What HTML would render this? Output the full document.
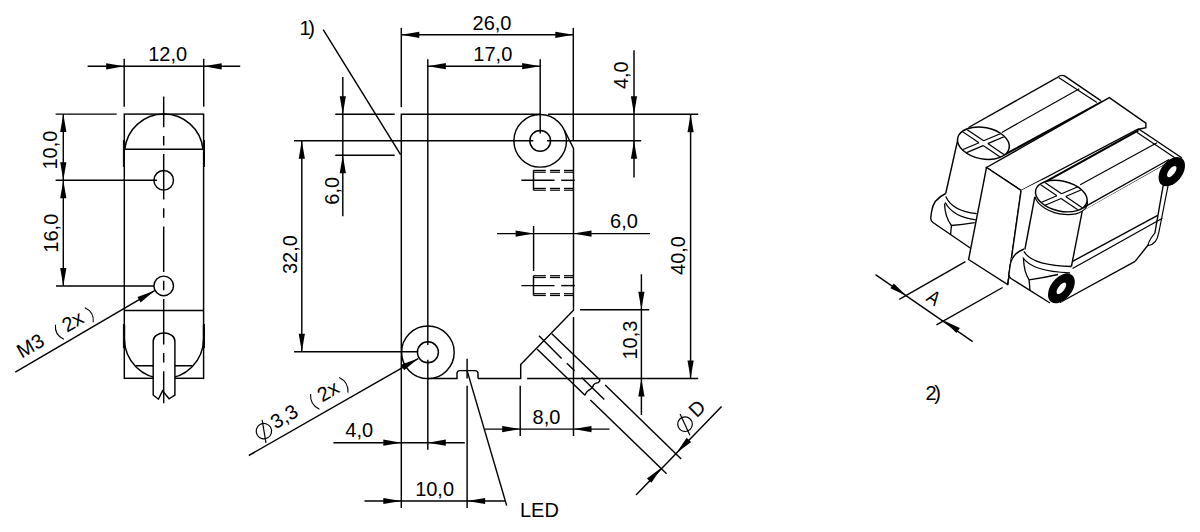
<!DOCTYPE html>
<html><head><meta charset="utf-8"><style>
html,body{margin:0;padding:0;background:#fff;width:1200px;height:532px;overflow:hidden}
svg{position:absolute;left:0;top:0}
text{font-family:"Liberation Sans",sans-serif;fill:#000;stroke:none}
</style></head><body>
<svg width="1200" height="532" viewBox="0 0 1200 532" stroke="#000" stroke-linecap="butt">
<line x1="124.20" y1="58.80" x2="124.20" y2="106.70" stroke-width="1.45" />
<line x1="203.70" y1="58.80" x2="203.70" y2="106.70" stroke-width="1.45" />
<line x1="87.60" y1="66.30" x2="240.20" y2="66.30" stroke-width="1.45" />
<polygon points="124.20,66.30 106.20,69.40 106.20,63.20" fill="#000" stroke="none"/>
<polygon points="203.70,66.30 221.70,63.20 221.70,69.40" fill="#000" stroke="none"/>
<text x="167.70" y="61.00" text-anchor="middle" font-size="20" >12,0</text>
<rect x="124.3" y="114.1" width="79.3" height="264.2" fill="none" stroke-width="1.45"/>
<path d="M124.8,149.3 A39.3,39.3 0 0 1 203.0,149.3" fill="none" stroke-width="1.45" />
<line x1="124.30" y1="149.30" x2="203.60" y2="149.30" stroke-width="1.45" />
<line x1="123.40" y1="140.00" x2="123.40" y2="167.00" stroke-width="1.0" />
<line x1="204.50" y1="140.00" x2="204.50" y2="167.00" stroke-width="1.0" />
<line x1="123.40" y1="324.00" x2="123.40" y2="348.00" stroke-width="1.0" />
<line x1="204.50" y1="324.00" x2="204.50" y2="348.00" stroke-width="1.0" />
<line x1="124.30" y1="310.40" x2="203.60" y2="310.40" stroke-width="1.45" />
<path d="M124.5,325 L124.5,339 A39.2,39.2 0 0 0 203.5,339 L203.5,325" fill="none" stroke-width="1.45" />
<line x1="135.70" y1="365.70" x2="192.50" y2="365.70" stroke-width="1.45" />
<path d="M153.2,395 L153.2,341 A10.85,8 0 0 1 174.9,341 L174.9,395 L169.1,398.8 L162.5,390.9 L158.4,399.2 Z" fill="#fff" stroke-width="1.45" />
<circle cx="163.70" cy="180.30" r="9.80" fill="none" stroke-width="1.45"/>
<circle cx="163.70" cy="285.90" r="9.80" fill="none" stroke-width="1.45"/>
<line x1="163.7" y1="96.6" x2="163.7" y2="403.3" stroke-width="1.45" stroke-dasharray="45.5 8.7 9.5 8.7" stroke-dashoffset="14.9"/>
<line x1="55.60" y1="114.10" x2="116.70" y2="114.10" stroke-width="1.45" />
<line x1="55.60" y1="180.30" x2="157.00" y2="180.30" stroke-width="1.45" />
<line x1="56.00" y1="285.90" x2="153.80" y2="285.90" stroke-width="1.45" />
<line x1="63.30" y1="114.10" x2="63.30" y2="285.90" stroke-width="1.45" />
<polygon points="63.30,114.10 66.40,132.10 60.20,132.10" fill="#000" stroke="none"/>
<polygon points="63.30,180.30 60.20,162.30 66.40,162.30" fill="#000" stroke="none"/>
<polygon points="63.30,180.30 66.40,198.30 60.20,198.30" fill="#000" stroke="none"/>
<polygon points="63.30,285.90 60.20,267.90 66.40,267.90" fill="#000" stroke="none"/>
<text transform="translate(57.00,150.10) rotate(-90)" text-anchor="middle" font-size="20" >10,0</text>
<text transform="translate(57.50,233.20) rotate(-90)" text-anchor="middle" font-size="20" >16,0</text>
<line x1="15.30" y1="372.10" x2="154.60" y2="290.70" stroke-width="1.45" />
<polygon points="154.60,290.70 140.56,302.38 137.46,297.02" fill="#000" stroke="none"/>
<text x="299.6" y="34.8" font-size="20">1<tspan dx="-2.6">)</tspan></text>
<line x1="323.20" y1="29.70" x2="400.60" y2="154.70" stroke-width="1.45" />
<line x1="401.30" y1="27.80" x2="401.30" y2="107.20" stroke-width="1.45" />
<line x1="573.30" y1="27.80" x2="573.30" y2="140.80" stroke-width="1.45" />
<line x1="401.30" y1="34.80" x2="573.30" y2="34.80" stroke-width="1.45" />
<polygon points="401.30,34.80 419.30,31.70 419.30,37.90" fill="#000" stroke="none"/>
<polygon points="573.30,34.80 555.30,37.90 555.30,31.70" fill="#000" stroke="none"/>
<text x="492.00" y="29.70" text-anchor="middle" font-size="20" >26,0</text>
<line x1="427.80" y1="59.20" x2="427.80" y2="345.00" stroke-width="1.45" />
<line x1="540.20" y1="59.20" x2="540.20" y2="133.50" stroke-width="1.45" />
<line x1="427.80" y1="66.20" x2="540.20" y2="66.20" stroke-width="1.45" />
<polygon points="427.80,66.20 445.80,63.10 445.80,69.30" fill="#000" stroke="none"/>
<polygon points="540.20,66.20 522.20,69.30 522.20,63.10" fill="#000" stroke="none"/>
<text x="492.80" y="61.10" text-anchor="middle" font-size="20" >17,0</text>
<polyline points="401.30,508.00 401.30,114.20 540.20,114.20" fill="none" stroke-width="1.45" />
<line x1="548.00" y1="114.20" x2="698.20" y2="114.20" stroke-width="1.45" />
<circle cx="540.20" cy="140.80" r="26.30" fill="none" stroke-width="1.45"/>
<circle cx="540.20" cy="140.80" r="10.40" fill="none" stroke-width="1.45"/>
<polyline points="564.30,130.00 573.50,148.30 573.50,310.30 520.70,364.60 520.70,378.50 478.00,378.50" fill="none" stroke-width="1.45" />
<path d="M478,378.5 L478,373.6 Q478,370.6 475,370.6 L460,370.6 Q457,370.6 457,373.6 L457,378.5 L427.9,378.5" fill="none" stroke-width="1.45" />
<circle cx="427.90" cy="352.30" r="26.30" fill="none" stroke-width="1.45"/>
<circle cx="427.90" cy="352.30" r="10.50" fill="none" stroke-width="1.45"/>
<line x1="427.80" y1="359.80" x2="427.80" y2="449.70" stroke-width="1.45" />
<line x1="294.00" y1="140.70" x2="533.30" y2="140.70" stroke-width="1.45" />
<line x1="547.00" y1="140.70" x2="641.20" y2="140.70" stroke-width="1.45" />
<line x1="294.10" y1="351.70" x2="418.20" y2="351.70" stroke-width="1.45" />
<line x1="335.30" y1="114.20" x2="394.70" y2="114.20" stroke-width="1.45" />
<line x1="335.30" y1="155.30" x2="394.70" y2="155.30" stroke-width="1.45" />
<line x1="342.80" y1="77.10" x2="342.80" y2="216.30" stroke-width="1.45" />
<polygon points="342.80,114.20 339.70,96.20 345.90,96.20" fill="#000" stroke="none"/>
<polygon points="342.80,155.30 345.90,173.30 339.70,173.30" fill="#000" stroke="none"/>
<text transform="translate(339.00,190.80) rotate(-90)" text-anchor="middle" font-size="20" >6,0</text>
<line x1="301.80" y1="140.70" x2="301.80" y2="351.70" stroke-width="1.45" />
<polygon points="301.80,140.70 304.90,158.70 298.70,158.70" fill="#000" stroke="none"/>
<polygon points="301.80,351.70 298.70,333.70 304.90,333.70" fill="#000" stroke="none"/>
<text transform="translate(297.00,254.60) rotate(-90)" text-anchor="middle" font-size="20" >32,0</text>
<line x1="634.00" y1="50.30" x2="634.00" y2="177.40" stroke-width="1.45" />
<polygon points="634.00,114.20 630.90,96.20 637.10,96.20" fill="#000" stroke="none"/>
<polygon points="634.00,140.70 637.10,158.70 630.90,158.70" fill="#000" stroke="none"/>
<text transform="translate(628.30,75.20) rotate(-90)" text-anchor="middle" font-size="20" >4,0</text>
<line x1="690.60" y1="114.20" x2="690.60" y2="378.50" stroke-width="1.45" />
<polygon points="690.60,114.20 693.70,132.20 687.50,132.20" fill="#000" stroke="none"/>
<polygon points="690.60,378.50 687.50,360.50 693.70,360.50" fill="#000" stroke="none"/>
<text transform="translate(685.00,255.50) rotate(-90)" text-anchor="middle" font-size="20" >40,0</text>
<line x1="533.50" y1="170.40" x2="533.50" y2="190.20" stroke-width="1.45" />
<line x1="533.50" y1="170.40" x2="545.80" y2="170.40" stroke-width="1.2" />
<line x1="550.00" y1="170.40" x2="560.00" y2="170.40" stroke-width="1.2" />
<line x1="564.00" y1="170.40" x2="573.50" y2="170.40" stroke-width="1.2" />
<line x1="533.50" y1="172.20" x2="545.80" y2="172.20" stroke-width="1.2" />
<line x1="550.00" y1="172.20" x2="560.00" y2="172.20" stroke-width="1.2" />
<line x1="564.00" y1="172.20" x2="573.50" y2="172.20" stroke-width="1.2" />
<line x1="533.50" y1="188.40" x2="545.80" y2="188.40" stroke-width="1.2" />
<line x1="550.00" y1="188.40" x2="560.00" y2="188.40" stroke-width="1.2" />
<line x1="564.00" y1="188.40" x2="573.50" y2="188.40" stroke-width="1.2" />
<line x1="533.50" y1="190.20" x2="545.80" y2="190.20" stroke-width="1.2" />
<line x1="550.00" y1="190.20" x2="560.00" y2="190.20" stroke-width="1.2" />
<line x1="564.00" y1="190.20" x2="573.50" y2="190.20" stroke-width="1.2" />
<line x1="521.40" y1="180.30" x2="554.50" y2="180.30" stroke-width="1.45" />
<line x1="561.20" y1="180.30" x2="574.80" y2="180.30" stroke-width="1.45" />
<line x1="533.50" y1="275.70" x2="533.50" y2="295.50" stroke-width="1.45" />
<line x1="533.50" y1="275.70" x2="545.80" y2="275.70" stroke-width="1.2" />
<line x1="550.00" y1="275.70" x2="560.00" y2="275.70" stroke-width="1.2" />
<line x1="564.00" y1="275.70" x2="573.50" y2="275.70" stroke-width="1.2" />
<line x1="533.50" y1="277.50" x2="545.80" y2="277.50" stroke-width="1.2" />
<line x1="550.00" y1="277.50" x2="560.00" y2="277.50" stroke-width="1.2" />
<line x1="564.00" y1="277.50" x2="573.50" y2="277.50" stroke-width="1.2" />
<line x1="533.50" y1="293.70" x2="545.80" y2="293.70" stroke-width="1.2" />
<line x1="550.00" y1="293.70" x2="560.00" y2="293.70" stroke-width="1.2" />
<line x1="564.00" y1="293.70" x2="573.50" y2="293.70" stroke-width="1.2" />
<line x1="533.50" y1="295.50" x2="545.80" y2="295.50" stroke-width="1.2" />
<line x1="550.00" y1="295.50" x2="560.00" y2="295.50" stroke-width="1.2" />
<line x1="564.00" y1="295.50" x2="573.50" y2="295.50" stroke-width="1.2" />
<line x1="521.40" y1="285.60" x2="554.50" y2="285.60" stroke-width="1.45" />
<line x1="561.20" y1="285.60" x2="574.80" y2="285.60" stroke-width="1.45" />
<line x1="497.00" y1="233.60" x2="650.00" y2="233.60" stroke-width="1.45" />
<line x1="533.60" y1="226.00" x2="533.60" y2="271.00" stroke-width="1.45" />
<polygon points="533.60,233.60 515.60,236.70 515.60,230.50" fill="#000" stroke="none"/>
<polygon points="573.50,233.60 591.50,230.50 591.50,236.70" fill="#000" stroke="none"/>
<text x="624.00" y="228.00" text-anchor="middle" font-size="20" >6,0</text>
<line x1="580.00" y1="309.80" x2="649.20" y2="309.80" stroke-width="1.45" />
<line x1="527.10" y1="378.50" x2="698.20" y2="378.50" stroke-width="1.45" />
<line x1="641.40" y1="274.30" x2="641.40" y2="415.00" stroke-width="1.45" />
<polygon points="641.40,309.80 638.30,291.80 644.50,291.80" fill="#000" stroke="none"/>
<polygon points="641.40,378.50 644.50,396.50 638.30,396.50" fill="#000" stroke="none"/>
<text transform="translate(636.50,340.10) rotate(-90)" text-anchor="middle" font-size="20" >10,3</text>
<line x1="573.50" y1="317.00" x2="573.50" y2="436.00" stroke-width="1.45" />
<line x1="520.20" y1="385.80" x2="520.20" y2="436.00" stroke-width="1.45" />
<line x1="467.10" y1="358.80" x2="467.10" y2="378.50" stroke-width="1.45" />
<line x1="467.10" y1="385.80" x2="467.10" y2="508.00" stroke-width="1.45" />
<line x1="484.70" y1="429.10" x2="609.50" y2="429.10" stroke-width="1.45" />
<polygon points="520.20,429.10 502.20,432.20 502.20,426.00" fill="#000" stroke="none"/>
<polygon points="573.50,429.10 591.50,426.00 591.50,432.20" fill="#000" stroke="none"/>
<text x="546.50" y="423.50" text-anchor="middle" font-size="20" >8,0</text>
<line x1="333.40" y1="442.70" x2="464.80" y2="442.70" stroke-width="1.45" />
<polygon points="401.30,442.70 383.30,445.80 383.30,439.60" fill="#000" stroke="none"/>
<polygon points="427.80,442.70 445.80,439.60 445.80,445.80" fill="#000" stroke="none"/>
<text x="359.20" y="437.00" text-anchor="middle" font-size="20" >4,0</text>
<line x1="364.50" y1="501.00" x2="505.70" y2="501.00" stroke-width="1.45" />
<polygon points="401.30,501.00 383.30,504.10 383.30,497.90" fill="#000" stroke="none"/>
<polygon points="467.10,501.00 485.10,497.90 485.10,504.10" fill="#000" stroke="none"/>
<text x="434.60" y="495.60" text-anchor="middle" font-size="20" >10,0</text>
<line x1="467.10" y1="370.60" x2="506.70" y2="505.60" stroke-width="1.45" />
<text x="520.00" y="517.00" text-anchor="start" font-size="20" >LED</text>
<line x1="248.80" y1="455.50" x2="418.20" y2="358.60" stroke-width="1.45" />
<polygon points="418.20,358.60 404.12,370.24 401.04,364.86" fill="#000" stroke="none"/>
<g transform="translate(23.2,357.9) rotate(-30)"><text x="-1.6" y="0" font-size="20">M3</text><path d="M44.50,-12.60 Q38.50,-4.20 44.50,4.20" fill="none" stroke-width="1.1"/><text x="50.5" y="0" font-size="20">2x</text><path d="M78.50,-12.60 Q84.50,-4.20 78.50,4.20" fill="none" stroke-width="1.1"/></g>
<g transform="translate(263.9,431.15) rotate(-30)"><circle cx="0" cy="0" r="7.7" fill="none" stroke-width="1.2"/><line x1="4.1" y1="-10.6" x2="-4.1" y2="11.2" stroke-width="1.2"/><text x="11.0" y="4.3" font-size="20">3,3</text><path d="M59.00,-8.80 Q53.00,0.00 59.00,8.80" fill="none" stroke-width="1.1"/><text x="65.0" y="4.3" font-size="20">2x</text><path d="M92.00,-8.80 Q98.00,0.00 92.00,8.80" fill="none" stroke-width="1.1"/></g>
<g transform="translate(697.9,417.4) rotate(-45)"><circle cx="-13.9" cy="-4.3" r="7.3" fill="none" stroke-width="1.2"/><line x1="-10.2" y1="-15" x2="-18.2" y2="6.9" stroke-width="1.2"/><text x="-1.6" y="0" font-size="20">D</text></g>
<line x1="551.80" y1="333.80" x2="598.20" y2="378.30" stroke-width="1.45" />
<line x1="537.00" y1="349.10" x2="585.00" y2="395.20" stroke-width="1.45" />
<path d="M598.2,378.3 Q601.5,380 598.2,382.6 Q594,383.5 593.5,384.9 Q593,388 588.3,390.5 Q586,392 585,395.2" fill="none" stroke-width="1.45" />
<line x1="539.00" y1="335.80" x2="561.60" y2="358.40" stroke-width="1.45" />
<line x1="566.80" y1="363.20" x2="574.70" y2="370.80" stroke-width="1.45" />
<line x1="581.70" y1="377.40" x2="604.30" y2="399.50" stroke-width="1.45" />
<line x1="605.20" y1="384.90" x2="681.20" y2="459.00" stroke-width="1.45" />
<line x1="590.40" y1="400.00" x2="666.60" y2="473.70" stroke-width="1.45" />
<line x1="636.00" y1="495.10" x2="721.60" y2="406.50" stroke-width="1.45" />
<polygon points="676.40,452.90 686.68,437.80 691.14,442.11" fill="#000" stroke="none"/>
<polygon points="661.70,467.60 651.42,482.70 646.96,478.39" fill="#000" stroke="none"/>
<polygon points="966.00,129.00 1056.60,77.90 1060.40,75.30 1065.00,76.90 1100.80,100.40 1102.70,101.30 1004.50,154.70 990.00,160.00" fill="#fff" stroke-width="0" stroke="none"/>
<polyline points="968.50,127.50 1056.60,77.90" fill="none" stroke-width="1.4" />
<path d="M1056.6,77.9 Q1060.5,74.3 1064.5,75.8 L1100.8,100.6" fill="none" stroke-width="1.4" />
<line x1="1058.60" y1="77.60" x2="1096.90" y2="102.60" stroke-width="1.2" />
<line x1="1001.80" y1="132.40" x2="1079.30" y2="88.80" stroke-width="1.2" />
<line x1="1004.50" y1="154.70" x2="1102.70" y2="101.30" stroke-width="2.1" />
<polygon points="957.50,141.00 945.70,193.50 976.70,213.60 990.00,170.00 1004.50,154.70" fill="#fff" stroke-width="0" stroke="none"/>
<line x1="957.50" y1="141.00" x2="945.70" y2="193.50" stroke-width="1.4" />
<path d="M945.7,193.5 C938,197 932.5,203 931.5,212 L930.7,218.5 Q931,221 933,222.5 L970.2,248" fill="none" stroke-width="1.4" />
<path d="M945.8,196.5 Q952,211 976.7,213.6" fill="none" stroke-width="1.3" />
<path d="M945.2,202.5 Q953,217 975.8,219.8" fill="none" stroke-width="1.3" />
<path d="M944.5,203.5 Q945,217 951.4,225.5 Q962,224.5 974.8,222.6" fill="none" stroke-width="1.3" />
<line x1="951.40" y1="225.50" x2="950.60" y2="234.80" stroke-width="1.3" />
<path d="M957.3,139.5 A26,15.5 12 0 0 1009.3,144.5" fill="none" stroke-width="1.2" />
<ellipse cx="983.4" cy="143.2" rx="26.2" ry="15.7" transform="rotate(11 983.4 143.2)" fill="#fff" stroke-width="1.4" />
<clipPath id="cb"><ellipse cx="983.4" cy="143.2" rx="25.599999999999998" ry="15.1" transform="rotate(11 983.4 143.2)"/></clipPath>
<path d="M949.06,122.57 L979.02,142.78 M983.17,145.58 L1015.39,167.31 M951.41,119.09 L983.63,140.82 M987.78,143.62 L1017.74,163.83 M947.40,160.76 L983.17,145.58 M987.78,143.62 L1021.04,129.50 M945.76,156.90 L979.02,142.78 M983.63,140.82 L1019.40,125.64" fill="none" stroke-width="1.2" clip-path="url(#cb)"/>
<polygon points="986.50,167.50 1109.30,97.60 1145.90,123.20 1145.90,127.60 1137.40,129.50 1021.10,190.50" fill="#fff" stroke-width="1.4" />
<polygon points="986.50,167.50 1021.10,190.50 1007.70,284.60 968.60,259.50" fill="#fff" stroke-width="1.4" />
<polygon points="1021.10,190.50 1042.00,180.00 1034.50,196.70 1024.80,251.60 1011.00,258.20 1007.70,284.60" fill="#fff" stroke-width="0" stroke="none"/>
<line x1="1021.10" y1="190.50" x2="1007.70" y2="284.60" stroke-width="1.4" />
<polygon points="1040.00,186.00 1138.40,130.30 1145.00,131.50 1174.70,153.80 1169.10,159.50 1082.00,208.30 1065.00,212.00" fill="#fff" stroke-width="0" stroke="none"/>
<line x1="1042.60" y1="183.40" x2="1138.40" y2="130.30" stroke-width="2.1" />
<path d="M1137.2,130.0 Q1138.5,128.8 1139.5,129.5 L1182,158" fill="none" stroke-width="1.4" />
<line x1="1136.80" y1="132.20" x2="1177.00" y2="159.30" stroke-width="1.2" />
<line x1="1080.20" y1="184.80" x2="1157.00" y2="142.80" stroke-width="1.2" />
<line x1="1082.00" y1="208.30" x2="1169.10" y2="159.50" stroke-width="1.4" />
<line x1="1083.00" y1="211.20" x2="1167.50" y2="163.30" stroke-width="1.2" />
<polygon points="1082.20,211.30 1167.50,163.30 1166.80,185.40 1155.80,236.60 1148.50,244.50 1135.10,261.40 1062.00,301.40 1071.40,266.00" fill="#fff" stroke-width="0" stroke="none"/>
<line x1="1071.60" y1="261.90" x2="1157.70" y2="215.40" stroke-width="1.4" />
<line x1="1072.50" y1="268.60" x2="1162.40" y2="218.20" stroke-width="1.2" />
<line x1="1163.50" y1="183.50" x2="1154.80" y2="233.50" stroke-width="1.4" />
<line x1="1168.50" y1="183.50" x2="1158.60" y2="233.50" stroke-width="1.2" />
<path d="M1154.8,233.2 Q1147,243 1148.5,245.5 Q1157,244 1158.6,233.2" fill="none" stroke-width="1.2" />
<line x1="1148.50" y1="244.50" x2="1135.10" y2="261.40" stroke-width="1.4" />
<line x1="1135.10" y1="261.40" x2="1060.00" y2="302.50" stroke-width="1.4" />
<polygon points="1034.80,197.00 1024.80,251.60 1047.00,265.70 1071.40,266.50 1082.20,211.30" fill="#fff" stroke-width="0" stroke="none"/>
<line x1="1034.80" y1="197.00" x2="1024.60" y2="251.00" stroke-width="1.4" />
<line x1="1082.20" y1="211.30" x2="1071.40" y2="266.50" stroke-width="1.4" />
<polygon points="1024.00,249.00 1011.30,258.20 1009.00,275.00 1048.90,302.40 1062.00,301.40 1071.00,268.00" fill="#fff" stroke-width="0" stroke="none"/>
<path d="M1024.2,249 C1016,252 1011,258 1010,266 L1008.8,275 Q1009,277 1011,278.5 L1050,303" fill="none" stroke-width="1.4" />
<path d="M1024,251.5 Q1032,265.5 1071.4,266.5" fill="none" stroke-width="1.3" />
<path d="M1022.8,257.5 Q1032,271.5 1070,272.8" fill="none" stroke-width="1.3" />
<path d="M1023.5,259 Q1024,272 1029.1,279.8 Q1045,277.5 1058,274.5" fill="none" stroke-width="1.3" />
<line x1="1029.10" y1="279.80" x2="1030.00" y2="291.00" stroke-width="1.3" />
<path d="M1035,196.7 A26.5,15 13 0 0 1087.2,200.5" fill="none" stroke-width="1.2" />
<ellipse cx="1061.3" cy="196.1" rx="26.3" ry="15.0" transform="rotate(13 1061.3 196.1)" fill="#fff" stroke-width="1.4" />
<clipPath id="cf"><ellipse cx="1061.3" cy="196.1" rx="25.7" ry="14.4" transform="rotate(13 1061.3 196.1)"/></clipPath>
<path d="M1026.96,175.47 L1056.92,195.68 M1061.07,198.48 L1093.29,220.21 M1029.31,171.99 L1061.53,193.72 M1065.68,196.52 L1095.64,216.73 M1025.30,213.66 L1061.07,198.48 M1065.68,196.52 L1098.94,182.40 M1023.66,209.80 L1056.92,195.68 M1061.53,193.72 L1097.30,178.54" fill="none" stroke-width="1.2" clip-path="url(#cf)"/>
<g transform="translate(1061.4,288.3) rotate(38)"><ellipse rx="10.6" ry="17.0" fill="#000" stroke="none"/><ellipse rx="3.1" ry="6.8" fill="#fff" stroke="none"/></g>
<g transform="translate(1171.8,171.6) rotate(38)"><ellipse rx="10.6" ry="16.6" fill="#000" stroke="none"/><ellipse rx="3.1" ry="6.6" fill="#fff" stroke="none"/></g>
<line x1="899.30" y1="299.30" x2="965.40" y2="261.70" stroke-width="1.4" />
<line x1="936.50" y1="324.80" x2="1002.60" y2="287.50" stroke-width="1.4" />
<line x1="875.50" y1="274.70" x2="972.70" y2="341.70" stroke-width="1.4" />
<polygon points="906.50,295.80 890.39,288.34 893.79,283.40" fill="#000" stroke="none"/>
<polygon points="943.70,320.60 959.81,328.06 956.41,333.00" fill="#000" stroke="none"/>
<text transform="translate(929.9,303.2) rotate(34.5) scale(0.85,1)" text-anchor="middle" font-size="20">A</text>
<text x="925.4" y="399.5" font-size="20">2<tspan dx="-2.2">)</tspan></text>
</svg>
</body></html>
